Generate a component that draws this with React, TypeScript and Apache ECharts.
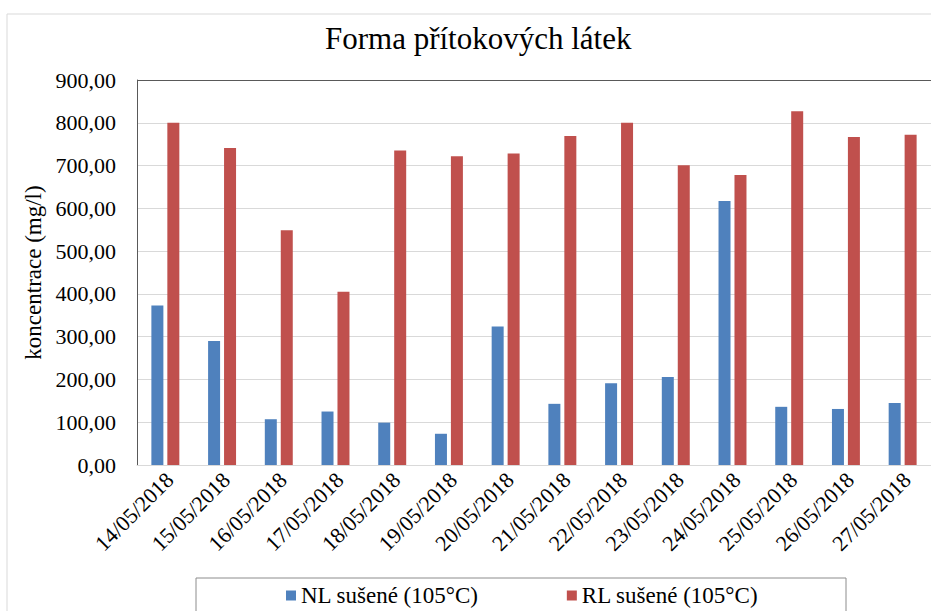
import React, { useEffect, useRef } from "react";
import * as echarts from "echarts";

const categories = [
  "14/05/2018", "15/05/2018", "16/05/2018", "17/05/2018", "18/05/2018", "19/05/2018", "20/05/2018",
  "21/05/2018", "22/05/2018", "23/05/2018", "24/05/2018", "25/05/2018", "26/05/2018", "27/05/2018",
];
const nlValues = [373, 290, 107, 125, 99, 73, 324, 143, 191, 206, 617, 136, 131, 145];
const rlValues = [800, 741, 549, 405, 735, 722, 728, 769, 800, 701, 678, 827, 767, 772];
const seriesNames = ["NL sušené (105°C)", "RL sušené (105°C)"];
const titleText = "Forma přítokových látek";
const yAxisName = "koncentrace (mg/l)";

const FONT = "Liberation Serif";

export default function App() {
  const ref = useRef<HTMLDivElement>(null);
  useEffect(() => {
    if (!ref.current) return;
    const chart = echarts.init(ref.current, null, { renderer: "svg" });
    const splitColors = ["#d9d9d9", "#d9d9d9", "#d9d9d9", "#d9d9d9", "#d9d9d9", "#d9d9d9", "#d9d9d9", "#d9d9d9", "#d9d9d9", "#595959"];
    chart.setOption({
      animation: false,
      backgroundColor: "#ffffff",
      textStyle: { fontFamily: FONT },
      title: {
        text: titleText,
        left: 325,
        top: 23,
        padding: 0,
        textStyle: { fontFamily: FONT, fontSize: 31, fontWeight: "normal", color: "#000" },
      },
      legend: {
        left: 286,
        top: 584,
        padding: 0,
        itemWidth: 10,
        itemHeight: 10,
        itemGap: 88,
        icon: "rect",
        textStyle: { fontFamily: FONT, fontSize: 23, color: "#000" },
        data: seriesNames,
      },
      graphic: [
        {
          type: "rect",
          shape: { x: 7, y: 14, width: 1000, height: 1000 },
          style: { fill: "none", stroke: "#d9d9d9", lineWidth: 1 },
          silent: true,
          z: -1,
        },
        {
          type: "rect",
          shape: { x: 196, y: 578, width: 650, height: 60 },
          style: { fill: "none", stroke: "#8c8c8c", lineWidth: 1 },
          silent: true,
        },
      ],
      grid: { left: 137, top: 80, width: 795, height: 385, containLabel: false },
      xAxis: {
        type: "category",
        data: categories,
        axisLine: { show: true, lineStyle: { color: "#d9d9d9", width: 1 } },
        axisTick: { show: false },
        axisLabel: {
          rotate: 45,
          interval: 0,
          margin: 7,
          verticalAlign: "top",
          lineHeight: 12,
          fontFamily: FONT,
          fontSize: 22,
          color: "#000",
        },
      },
      yAxis: {
        type: "value",
        min: 0,
        max: 900,
        interval: 100,
        name: yAxisName,
        nameLocation: "middle",
        nameGap: 88,
        nameTextStyle: { fontFamily: FONT, fontSize: 23, color: "#000" },
        axisLine: { show: true, lineStyle: { color: "#595959", width: 1 } },
        axisTick: { show: false },
        splitLine: { show: true, lineStyle: { color: splitColors, width: 1 } },
        axisLabel: {
          margin: 21,
          fontFamily: FONT,
          fontSize: 22,
          color: "#000",
          formatter: (v: number) => v.toFixed(2).replace(".", ","),
        },
      },
      series: [
        {
          name: seriesNames[0],
          type: "bar",
          data: nlValues,
          barWidth: 12,
          barGap: "33%",
          itemStyle: { color: "#4f81bd" },
        },
        {
          name: seriesNames[1],
          type: "bar",
          data: rlValues,
          barWidth: 12,
          barGap: "33%",
          itemStyle: { color: "#c0504d" },
        },
      ],
    });
    return () => chart.dispose();
  }, []);
  return (
    <div
      ref={ref}
      style={{ position: "absolute", left: 0, top: 0, width: 931, height: 611 }}
    />
  );
}
